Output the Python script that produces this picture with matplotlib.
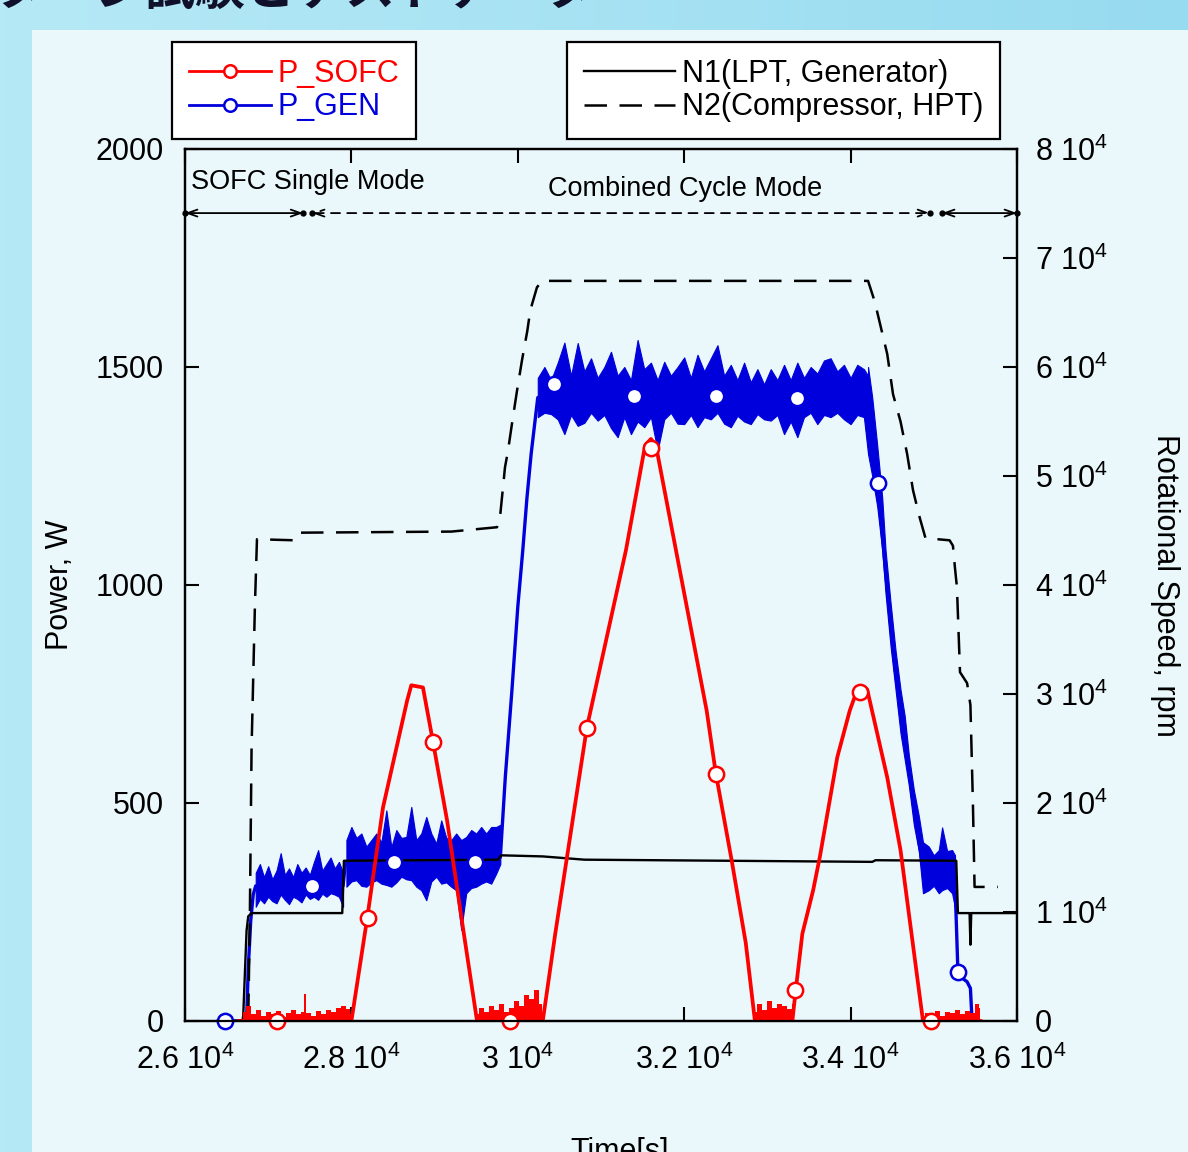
import numpy as np
import matplotlib
matplotlib.use("Agg")
import matplotlib.pyplot as plt
from matplotlib.lines import Line2D
from matplotlib.patches import Rectangle
from matplotlib.colors import LinearSegmentedColormap

plt.rcParams['font.family'] = ['Liberation Sans', 'DejaVu Sans']
plt.rcParams['mathtext.fontset'] = 'custom'
plt.rcParams['mathtext.rm'] = 'Liberation Sans'
plt.rcParams['mathtext.it'] = 'Liberation Sans'
plt.rcParams['mathtext.bf'] = 'Liberation Sans'
plt.rcParams['mathtext.default'] = 'regular'

# ---------------- data ----------------
x_ticks = [26000, 28000, 30000, 32000, 34000, 36000]
x_tick_labels = ['2.6 10$^4$', '2.8 10$^4$', '3 10$^4$', '3.2 10$^4$', '3.4 10$^4$', '3.6 10$^4$']
power_ticks = [0, 500, 1000, 1500, 2000]
speed_ticks = [0, 10000, 20000, 30000, 40000, 50000, 60000, 70000, 80000]
speed_tick_labels = ['0', '1 10$^4$', '2 10$^4$', '3 10$^4$', '4 10$^4$',
                     '5 10$^4$', '6 10$^4$', '7 10$^4$', '8 10$^4$']

# P_SOFC (W)
sofc_t = [26650, 28000, 28190, 28380, 28670, 28720, 28860, 28980, 29150, 29340,
          29510, 30300, 30450, 30830, 31300, 31530, 31600, 31660, 32270, 32380,
          32570, 32740, 32850, 33300, 33340, 33420, 33550, 33630, 33840, 33990,
          34090, 34200, 34440, 34600, 34870, 35560]
sofc_p = [0, 0, 236, 490, 735, 770, 765, 641, 460, 215,
          0, 0, 200, 673, 1080, 1320, 1335, 1320, 712, 568,
          369, 179, 0, 0, 70, 200, 300, 376, 605, 712,
          765, 760, 559, 392, 0, 0]
sofc_mark_t = [27106, 28199, 28981, 29906, 30832, 31601, 32382, 33332, 34113, 34966]
sofc_mark_p = [0, 236, 641, 0, 673, 1315, 566, 71, 754, 0]
# small red noise near zero
sofc_noise1_t = [26700, 26760, 26820, 26880, 26940, 27000, 27060, 27120, 27180, 27240, 27300, 27360,
                 27420, 27440, 27480, 27540, 27600, 27660, 27720, 27780, 27840, 27900, 27960, 28000]
sofc_noise1_p = [20, 35, 15, 25, 12, 20, 15, 22, 10, 18, 25, 15,
                 20, 63, 18, 12, 22, 15, 25, 20, 30, 35, 28, 15]
sofc_noise2_t = [29500, 29560, 29620, 29680, 29740, 29800, 29860, 29920, 29980, 30040, 30100, 30160, 30220, 30280, 30300]
sofc_noise2_p = [15, 30, 20, 35, 25, 40, 20, 30, 45, 35, 60, 50, 70, 40, 0]
sofc_noise3_t = [32850, 32910, 32970, 33030, 33090, 33150, 33210, 33270, 33320]
sofc_noise3_p = [20, 40, 25, 45, 30, 40, 35, 28, 40]
sofc_noise4_t = [34870, 34930, 34990, 35050, 35110, 35170, 35230, 35290, 35350, 35410, 35470, 35530, 35560]
sofc_noise4_p = [10, 18, 15, 22, 12, 20, 18, 25, 15, 22, 18, 40, 30]

# P_GEN (W): trend line
gen_t = [26400, 26740, 26760, 26790, 26820, 26850, 27900, 27930, 29790, 29850,
         29930, 30000, 30060, 30110, 30160, 30240, 34210, 34320, 34420, 34540,
         34650, 34760, 34870, 35250, 35270, 35290, 35330, 35400, 35440, 35460, 35470]
gen_p = [0, 0, 120, 230, 290, 310, 310, 365, 375, 560,
         760, 950, 1080, 1200, 1300, 1430, 1440, 1250, 1030, 800,
         650, 490, 350, 340, 230, 112, 100, 90, 75, 0, 0]
# P_GEN noise envelopes
gen_band1_t = [26850, 26900, 26950, 27000, 27050, 27100, 27150, 27200, 27250, 27300, 27350,
               27400, 27450, 27500, 27550, 27600, 27650, 27700, 27750, 27800, 27850, 27900]
gen_band1_hi = [340, 360, 330, 355, 325, 345, 385, 335, 350, 330, 360,
                340, 352, 335, 365, 392, 345, 360, 375, 350, 365, 340]
gen_band1_lo = [262, 280, 270, 285, 275, 270, 290, 278, 268, 285, 280,
                272, 290, 280, 285, 278, 292, 285, 293, 290, 285, 262]
gen_band2_t = [27940, 28000, 28060, 28120, 28180, 28240, 28300, 28360, 28420, 28480,
               28540, 28600, 28660, 28720, 28780, 28840, 28900, 28960, 29020, 29080,
               29140, 29200, 29260, 29320, 29380, 29440, 29500, 29560, 29620, 29680, 29740, 29790]
gen_band2_hi = [415, 445, 420, 430, 400, 415, 430, 410, 483, 399,
                438, 420, 422, 491, 415, 430, 468, 430, 407, 460,
                420, 415, 430, 415, 422, 438, 430, 445, 430, 445, 445, 450]
gen_band2_lo = [308, 320, 323, 310, 308, 318, 323, 315, 312, 308,
                318, 331, 325, 323, 308, 300, 277, 320, 331, 315,
                318, 308, 300, 209, 293, 305, 308, 315, 320, 315, 338, 360]
gen_band3_t = [30240, 30320, 30400, 30480, 30560, 30640, 30720, 30800, 30880, 30960,
               31040, 31120, 31200, 31280, 31360, 31440, 31520, 31600, 31680, 31760,
               31840, 31920, 32000, 32080, 32160, 32240, 32320, 32400, 32480, 32560,
               32640, 32720, 32800, 32880, 32960, 33040, 33120, 33200, 33280, 33360,
               33440, 33520, 33600, 33680, 33760, 33840, 33920, 34000, 34080, 34160, 34210]
gen_band3_hi = [1475, 1500, 1470, 1510, 1556, 1480, 1555, 1490, 1520, 1475,
                1500, 1535, 1480, 1500, 1470, 1562, 1495, 1510, 1470, 1512,
                1480, 1500, 1522, 1475, 1528, 1490, 1520, 1550, 1480, 1505,
                1470, 1510, 1465, 1495, 1460, 1495, 1470, 1505, 1470, 1510,
                1475, 1500, 1485, 1515, 1520, 1490, 1505, 1475, 1505, 1495, 1480]
gen_band3_lo = [1385, 1395, 1392, 1380, 1346, 1390, 1365, 1372, 1395, 1377,
                1390, 1360, 1339, 1385, 1346, 1375, 1362, 1385, 1308, 1380,
                1395, 1370, 1369, 1390, 1362, 1385, 1380, 1395, 1370, 1362,
                1388, 1375, 1369, 1392, 1380, 1377, 1390, 1346, 1375, 1339,
                1385, 1395, 1369, 1390, 1385, 1395, 1380, 1369, 1390, 1385, 1300]
gen_band4_t = [34210, 34260, 34320, 34380, 34420, 34480, 34540, 34600, 34650, 34700,
               34760, 34820, 34870, 34940, 35000, 35060, 35100, 35160, 35220, 35255]
gen_band4_hi = [1500, 1430, 1320, 1200, 1080, 960, 850, 760, 700, 610,
                530, 470, 410, 400, 380, 392, 444, 390, 392, 380]
gen_band4_lo = [1300, 1250, 1180, 1080, 980, 860, 760, 660, 600, 540,
                450, 390, 293, 300, 310, 293, 300, 305, 293, 260]
gen_mark_t = [26480, 27527, 28512, 29486, 30435, 31397, 32382, 33356, 34329, 35290]
gen_mark_p = [0, 309, 364, 364, 1462, 1434, 1434, 1430, 1235, 112]

# N1 (rpm)
n1_t = [26400, 26690, 26700, 26720, 26740, 26760, 26800, 27890, 27910, 29760,
        29800, 30300, 30800, 34260, 34300, 35270, 35290, 35430, 35440, 35450, 36000]
n1_v = [0, 0, 500, 4400, 8300, 9600, 9900, 9900, 14700, 14800,
        15200, 15100, 14800, 14600, 14750, 14700, 9900, 9900, 7000, 9900, 9900]
# N2 (rpm)
n2_t = [26400, 26760, 26780, 26800, 26840, 26865, 27320, 27380, 29200, 29750,
        29786, 29846, 29882, 29930, 29990, 30050, 30114, 30150, 30230, 30290,
        34210, 34290, 34440, 34510, 34600, 34680, 34750, 34830, 34900, 35190,
        35230, 35254, 35278, 35315, 35400, 35440, 35470, 35490, 35770]
n2_v = [0, 0, 10000, 25000, 38000, 44200, 44100, 44800, 44900, 45300,
        46200, 50800, 52300, 54800, 57800, 60600, 63300, 65200, 67300, 67900,
        67900, 66000, 61200, 57500, 55000, 52000, 48700, 46200, 44300, 44100,
        43600, 41600, 39800, 32000, 31000, 29000, 20000, 12300, 12300]

# mode boundaries (time, s)
mode_arrow_t = [26000, 27420, 27527, 34955, 35099, 36000]
mode_labels = ['SOFC Single Mode', 'Combined Cycle Mode']

BLUE = '#0000dd'
RED = '#ff0000'
FS = 22

# ---------------- figure ----------------
W, H = 1188, 1152
fig = plt.figure(figsize=(W / 100, H / 100), dpi=100)

bg = fig.add_axes([0, 0, 1, 1], zorder=-10)
bg.set_axis_off()
bg.set_xlim(0, W)
bg.set_ylim(H, 0)
cmap = LinearSegmentedColormap.from_list('bgc', ['#b6e9f6', '#97dbf0'])
bg.imshow(np.linspace(0, 1, 256).reshape(1, -1), extent=(0, W, H, 0), aspect='auto', cmap=cmap)
bg.add_patch(Rectangle((32, 30), W - 32, H - 30, facecolor='#eaf7fb', edgecolor='none'))

fig.text(-55 / W, 1 - 5 / H, 'パターン試験とテストデータ', fontsize=36, fontweight='bold',
         color='#10102a', family=['Noto Sans CJK JP'], ha='left', va='baseline')

ax = fig.add_axes([185 / W, 1 - 1021 / H, (1017 - 185) / W, (1021 - 149) / H])
ax.set_facecolor('none')
ax2 = ax.twinx()

# P_GEN noise bands and trend
for bt, blo, bhi in [(gen_band1_t, gen_band1_lo, gen_band1_hi),
                     (gen_band2_t, gen_band2_lo, gen_band2_hi),
                     (gen_band3_t, gen_band3_lo, gen_band3_hi),
                     (gen_band4_t, gen_band4_lo, gen_band4_hi)]:
    ax.fill_between(bt, blo, bhi, color=BLUE, lw=0.8, edgecolor=BLUE, zorder=2)
ax.plot(gen_t, gen_p, color=BLUE, lw=2.4, zorder=2)

# rotational speeds (right axis scale)
ax.plot(n1_t, n1_v, color='black', lw=1.7, zorder=3, transform=ax2.transData)
ax.plot(n2_t, n2_v, color='black', lw=1.8, dashes=(9, 5), zorder=3, transform=ax2.transData)

# P_SOFC
for nt, npw in [(sofc_noise1_t, sofc_noise1_p), (sofc_noise2_t, sofc_noise2_p),
                (sofc_noise3_t, sofc_noise3_p), (sofc_noise4_t, sofc_noise4_p)]:
    ax.fill_between(nt, 0, npw, step='mid', color=RED, lw=0, zorder=4)
ax.plot(sofc_t, sofc_p, color=RED, lw=2.7, zorder=4)

# markers
ax.plot(sofc_mark_t, sofc_mark_p, ls='none', marker='o', ms=11, mfc='white', mec=RED, mew=1.8,
        zorder=6, clip_on=False)
ax.plot(gen_mark_t, gen_mark_p, ls='none', marker='o', ms=11, mfc='white', mec=BLUE, mew=1.8,
        zorder=6, clip_on=False)

# mode arrows
arrow_y = 1853
for (a, b), ls in zip([(mode_arrow_t[0], mode_arrow_t[1]), (mode_arrow_t[2], mode_arrow_t[3]),
                       (mode_arrow_t[4], mode_arrow_t[5])], ['-', (0, (5, 4)), '-']):
    ax.annotate('', xy=(b, arrow_y), xytext=(a, arrow_y),
                arrowprops=dict(arrowstyle='<->,head_length=0.7,head_width=0.25', lw=1.3,
                                color='black', ls=ls, shrinkA=0, shrinkB=0),
                annotation_clip=False, zorder=3)
ax.plot(mode_arrow_t, [arrow_y] * len(mode_arrow_t), ls='none', marker='o', ms=3.5,
        color='black', zorder=3, clip_on=False)
ax.text(26070, 1924, mode_labels[0], fontsize=19.5, ha='left', va='center', zorder=5)
ax.text(32010, 1908, mode_labels[1], fontsize=19.5, ha='center', va='center', zorder=5)

# axes, ticks, labels
ax.set_xlim(26000, 36000)
ax.set_ylim(0, 2000)
ax2.set_ylim(0, 80000)
ax.set_xticks(x_ticks)
ax.set_xticklabels(x_tick_labels)
ax.set_yticks(power_ticks)
ax2.set_yticks(speed_ticks)
ax2.set_yticklabels(speed_tick_labels)

ax.tick_params(axis='both', which='major', direction='in', length=10, width=1.5,
               labelsize=FS, top=True, right=False)
ax.tick_params(axis='y', pad=15)
ax.tick_params(axis='x', pad=17)
ax2.tick_params(axis='y', direction='in', length=10, width=1.5, labelsize=FS, pad=13)
for a in (ax, ax2):
    for s in a.spines.values():
        s.set_linewidth(1.6)

ax.set_ylabel('Power, W', fontsize=FS)
ax.yaxis.set_label_coords(-0.132, 0.5)
ax2.set_ylabel('Rotational Speed, rpm', fontsize=FS, rotation=-90, va='bottom')
ax2.yaxis.set_label_coords(1.160, 0.5)
ax.set_xlabel('Time[s]', fontsize=FS)
ax.xaxis.set_label_coords(0.5228, -0.133)

# legends
h_sofc = Line2D([], [], color=RED, lw=2, marker='o', ms=9, mfc='white', mec=RED, mew=1.8)
h_gen = Line2D([], [], color=BLUE, lw=2, marker='o', ms=9, mfc='white', mec=BLUE, mew=1.8)
h_n1 = Line2D([], [], color='black', lw=1.7)
h_n2 = Line2D([], [], color='black', lw=1.8, dashes=(9, 5))

leg_kw = dict(loc='upper left', bbox_transform=fig.transFigure, fontsize=FS, frameon=True,
              fancybox=False, edgecolor='black', facecolor='white', framealpha=1,
              handletextpad=0.2, borderpad=0.55, labelspacing=0.12, borderaxespad=0)
leg1 = ax.legend([h_sofc, h_gen], ['P_SOFC', 'P_GEN'], bbox_to_anchor=(172 / W, 1 - 42 / H),
                 labelcolor=[RED, BLUE], handlelength=2.7, **leg_kw)
leg1.get_frame().set_linewidth(1.6)
ax.add_artist(leg1)
leg2 = ax.legend([h_n1, h_n2], ['N1(LPT, Generator)', 'N2(Compressor, HPT)'],
                 bbox_to_anchor=(567 / W, 1 - 42 / H), handlelength=3.0, **leg_kw)
leg2.get_frame().set_linewidth(1.6)

fig.savefig('out.png', dpi=100)
